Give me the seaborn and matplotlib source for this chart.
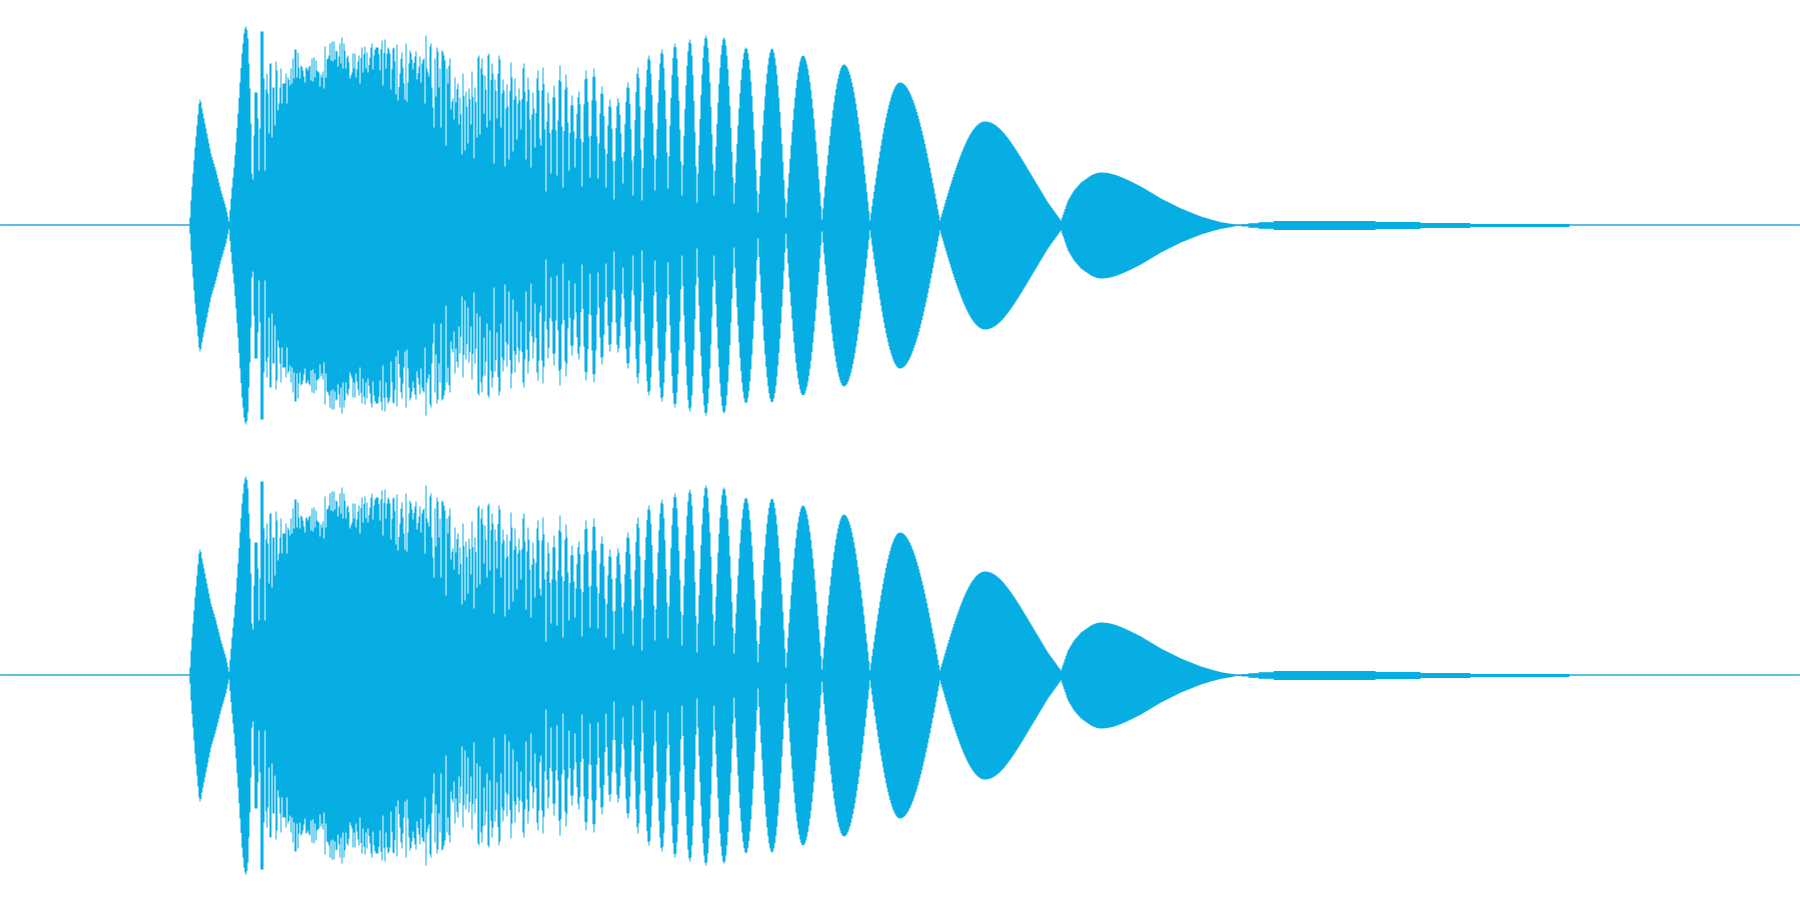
import numpy as np
import pandas as pd
import matplotlib
matplotlib.use("Agg")
import matplotlib.pyplot as plt
import seaborn as sns

# ---------------- data ----------------
channels = ["Left", "Right"]
frame_count = 1800          # one frame per pixel column
amp_limit = 225             # full-scale half height of a channel

# envelope key points (frame, peak amplitude) of the swept tone
env_x = [
    188, 189, 190, 192, 194, 196, 198, 199, 201, 205, 210, 215, 220, 225, 228,
    231, 233, 235, 237, 239, 241, 243, 245, 247, 249, 250, 251, 252,
    253, 254, 256, 257, 258, 259, 260, 262, 263, 264, 265, 266, 267, 268, 269, 270,
    271, 272, 273, 274, 275, 276, 277, 278, 279, 280, 281, 282, 284, 285, 286, 287,
    289, 290, 291, 292, 293, 294, 295, 296, 297, 298, 299, 300, 302, 304, 305, 307,
    309, 310, 311, 312, 313, 314, 315, 316, 318, 319, 320, 321, 322, 323, 324, 325,
    326, 327, 328, 329, 330, 331, 332, 333, 334, 335, 336, 337, 338, 339,
    340, 341, 342, 343, 345, 346, 347, 349, 351, 352, 353, 354, 355, 357, 358, 359,
    361, 362, 364, 365, 366, 367, 369, 371, 372, 373, 375, 377, 379, 381, 382, 384,
    385, 387, 389, 390, 392, 393, 395, 396, 397, 399, 401, 402, 404, 405, 406, 408,
    409, 411, 412, 414, 415, 416, 418, 419, 420, 421, 423, 424, 425, 426, 428, 429,
    430, 431, 433, 434, 435, 436, 437, 438, 439,
    440, 441, 444, 445, 446, 447, 449, 450, 452, 453, 454, 455, 457, 458, 459, 461,
    462, 464, 465, 467, 468, 470, 471, 473, 474, 476, 477, 478, 479, 480, 481, 483,
    484, 485, 486, 487, 488, 489, 491, 492, 493, 494, 496, 498, 499, 500, 502, 503,
    504, 506, 508, 510, 511, 512, 514, 516, 518, 520, 522, 523, 525, 527, 529, 530,
    532, 534, 536, 537, 539,
    540, 542, 545, 547, 550, 553, 556, 559, 562, 565, 568, 571, 574, 578, 581, 585,
    589, 593, 597, 601, 605, 609, 613, 617, 622, 627, 632, 637,
    641, 648, 654, 661, 667, 674, 681, 689, 696, 705, 713, 723, 733, 745, 757, 771,
    785, 802, 821, 843, 869, 899, 939, 984, 1020, 1047, 1060,
    1067, 1073, 1080, 1090, 1100, 1130, 1140, 1150, 1160, 1170, 1180, 1190, 1200,
    1210, 1220, 1230, 1235, 1240, 1241, 1247, 1248, 1257, 1258, 1272, 1273, 1374,
    1375, 1419, 1420, 1469, 1470, 1568, 1569,
]
env_amp = [
    0, 8, 25, 52, 78, 100, 122, 126, 117, 97, 72, 55, 35, 18, 4,
    38, 58, 83, 112, 143, 172, 192, 199, 187, 137, 102, 52, 46,
    90, 133, 133, 107, 55, 97, 194, 194, 147, 55, 136, 152, 132, 92, 162, 162,
    88, 138, 138, 100, 164, 155, 115, 122, 138, 157, 122, 142, 142, 152, 122, 148,
    140, 157, 142, 167, 147, 176, 176, 148, 173, 158, 147, 160, 155, 143, 158, 155,
    160, 145, 167, 144, 168, 148, 165, 155, 153, 139, 151, 148, 154, 137, 179, 148,
    166, 167, 170, 182, 165, 184, 164, 184, 166, 175, 174, 159, 169, 182,
    162, 188, 157, 182, 157, 168, 170, 147, 153, 172, 157, 172, 148, 164, 170, 142,
    178, 153, 179, 157, 173, 153, 168, 182, 156, 170, 178, 178, 155, 185, 140, 186,
    157, 178, 172, 136, 177, 178, 131, 181, 125, 152, 173, 158, 126, 182, 124, 162,
    175, 166, 156, 169, 174, 146, 159, 169, 143, 162, 167, 122, 190, 157, 149, 179,
    182, 138, 98, 167, 129, 178, 174, 138, 157,
    98, 175, 165, 80, 157, 142, 167, 116, 127, 106, 148, 123, 142, 101, 128, 71,
    152, 75, 134, 82, 137, 101, 154, 67, 138, 88, 168, 170, 91, 157, 167, 112,
    150, 136, 98, 170, 172, 105, 162, 152, 62, 146, 107, 170, 166, 98, 146, 135,
    59, 141, 66, 163, 148, 74, 147, 86, 137, 96, 157, 162, 66, 148, 106, 58,
    133, 78, 147, 155, 87,
    80, 158, 34, 133, 52, 140, 50, 160, 38, 151, 55, 130, 58, 134, 39, 155,
    48, 157, 47, 139, 38, 126, 26, 127, 42, 143, 30, 158,
    25, 170, 35, 176, 37, 182, 30, 186, 23, 190, 30, 188, 22, 178, 13, 177,
    8, 170, 6, 161, 5, 143, 5, 104, 68, 23, 5,
    25, 35, 43, 50, 53, 44, 39, 33, 27, 22, 17, 13, 9,
    6, 3.3, 1.7, 0.5, 0.5, 1, 1, 2.3, 2.3, 3.3, 3.3, 4.5, 4.5,
    3.5, 3.5, 2.5, 2.5, 1.5, 1.5, 0,
]

wave_color = "#06AEE4"
line_color = "#1BA3DA"


def envelope(frames, xs, amps):
    """Per-column amplitude: sine-shaped near peaks, straight elsewhere."""
    xs = np.asarray(xs, float)
    amps = np.asarray(amps, float)
    n = len(xs)
    out = np.zeros(len(frames))
    is_peak = np.zeros(n, bool)
    for i in range(n):
        lft = amps[i - 1] if i > 0 else -np.inf
        rgt = amps[i + 1] if i < n - 1 else -np.inf
        is_peak[i] = amps[i] >= lft and amps[i] >= rgt
    for i in range(n - 1):
        x0, x1 = xs[i], xs[i + 1]
        a0, a1 = amps[i], amps[i + 1]
        m = (frames >= x0) & (frames < x1)
        t = (frames[m] - x0) / (x1 - x0)
        if a1 >= a0 and is_peak[i + 1]:
            v = a0 + (a1 - a0) * np.sin(np.pi / 2 * t)
        elif a0 > a1 and is_peak[i]:
            v = a1 + (a0 - a1) * np.sin(np.pi / 2 * (1 - t))
        else:
            v = a0 + (a1 - a0) * t
        out[m] = v
    out[frames == xs[-1]] = amps[-1]
    return out


frames = np.arange(frame_count)
rows = []
for ch in channels:
    amp = envelope(frames, env_x, env_amp)
    rows.append(pd.DataFrame({"frame": frames, "amp": amp,
                              "baseline": np.zeros(frame_count), "channel": ch}))
df = pd.concat(rows, ignore_index=True)

# ---------------- drawing ----------------
sns.set_theme(style="white")
fig = plt.figure(figsize=(18, 9), dpi=100)
fig.patch.set_facecolor("white")

for k, ch in enumerate(channels):
    ax = fig.add_axes([0, 0.5 - 0.5 * k, 1, 0.5])
    sub = df[df["channel"] == ch]
    sns.lineplot(data=sub, x="frame", y="baseline", ax=ax, color=line_color,
                 linewidth=1.0, estimator=None, legend=False, zorder=1)
    ax.fill_between(sub["frame"], -sub["amp"], sub["amp"], step="mid",
                    color=wave_color, linewidth=0, antialiased=False, zorder=2)
    ax.set_xlim(-0.5, frame_count - 0.5)
    ax.set_ylim(-amp_limit, amp_limit)
    ax.set_axis_off()
    ax.set_facecolor("white")

fig.savefig("out.png", dpi=100, facecolor="white")
